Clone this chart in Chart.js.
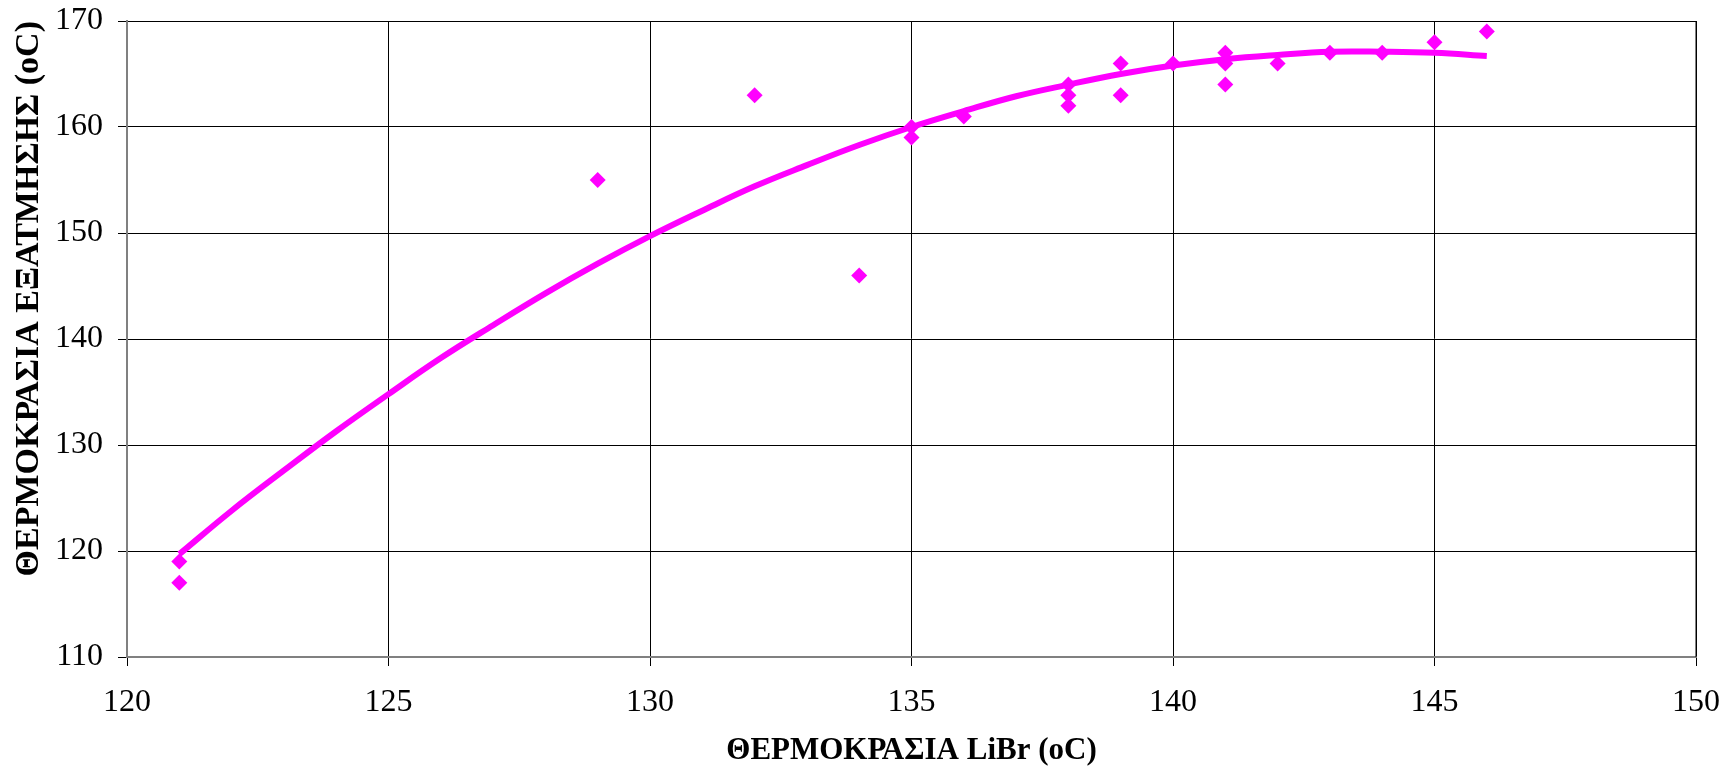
<!DOCTYPE html>
<html>
<head>
<meta charset="utf-8">
<script src="https://cdn.jsdelivr.net/npm/chart.js@4/dist/chart.umd.min.js"></script>
<style>
html,body{margin:0;padding:0;background:#fff;}
#wrap{width:1724px;height:766px;position:relative;}
</style>
</head>
<body>
<div id="wrap"><canvas id="c" width="1724" height="766"></canvas></div>
<script>
// Measured points (LiBr temperature, evaporation temperature)
const librTemp = [121,121,129,132,134,135,135,136,138,138,138,139,139,140,141,141,141,142,143,144,145,146];
const evapTemp = [119,117,155,163,146,160,159,161,164,163,162,166,163,166,167,166,164,166,167,167,168,169];

// Trend line (polynomial trendline) values
const trendX = [121,122,123,124,125,126,127,128,129,130,131,132,133,134,135,136,137,138,139,140,141,142,143,144,145,146];
const trendY = [119.7,123.8,127.6,131.3,134.8,138.2,141.3,144.3,147.1,149.7,152.1,154.4,156.4,158.3,160.0,161.5,162.9,164.0,165.0,165.8,166.4,166.8,167.1,167.1,167.0,166.7];

const xTitle = 'ΘΕΡΜΟΚΡΑΣΙΑ LiBr (oC)';
const yTitle = 'ΘΕΡΜΟΚΡΑΣΙΑ ΕΞΑΤΜΗΣΗΣ (oC)';
const xMin = 120, xMax = 150, xStep = 5;
const yMin = 110, yMax = 170, yStep = 10;

const scatterData = librTemp.map((x, i) => ({x: x, y: evapTemp[i]}));
const trendData = trendX.map((x, i) => ({x: x, y: trendY[i]}));

const FONT = "'Liberation Serif', 'Times New Roman', serif";

new Chart(document.getElementById('c'), {
  type: 'scatter',
  data: {
    datasets: [
      {
        label: 'trend',
        data: trendData,
        showLine: true,
        borderColor: '#FF00FF',
        borderWidth: 6,
        pointRadius: 0,
        tension: 0.4,
        fill: false
      },
      {
        label: 'data',
        data: scatterData,
        showLine: false,
        pointStyle: 'rectRot',
        pointRadius: 8,
        pointBackgroundColor: '#FF00FF',
        pointBorderColor: '#FF00FF',
        pointBorderWidth: 0
      }
    ]
  },
  options: {
    responsive: false,
    animation: false,
    events: [],
    layout: { padding: { left: 0, right: 28, top: 21, bottom: 0 } },
    plugins: { legend: { display: false }, tooltip: { enabled: false }, title: { display: false } },
    scales: {
      x: {
        type: 'linear',
        min: xMin, max: xMax,
        afterFit: (s) => { s.height = 109; s.paddingLeft = 0; s.paddingRight = 0; },
        ticks: { stepSize: xStep, color: '#000', padding: 17, font: { family: FONT, size: 32 }, maxRotation: 0 },
        grid: { color: '#000', lineWidth: 1, tickLength: 9, tickColor: '#000', drawTicks: true },
        border: { color: '#808080', width: 2 },
        title: { display: true, text: xTitle, color: '#000', font: { family: FONT, size: 31, weight: 'bold', lineHeight: 1.0 }, padding: { top: 0, bottom: 0 } }
      },
      y: {
        type: 'linear',
        min: yMin, max: yMax,
        afterFit: (s) => { s.width = 127; s.paddingTop = 0; s.paddingBottom = 0; },
        ticks: { stepSize: yStep, color: '#000', padding: 15, font: { family: FONT, size: 32 } },
        grid: { color: '#000', lineWidth: 1, tickLength: 9, tickColor: '#000', drawTicks: true },
        border: { color: '#808080', width: 2 },
        title: { display: true, text: yTitle, align: 'end', color: '#000', font: { family: FONT, size: 34, weight: 'bold' }, padding: { top: 9, bottom: 0 } }
      }
    }
  },
  plugins: [{
    id: 'frame',
    afterDraw(chart) {
      const a = chart.chartArea, ctx = chart.ctx;
      ctx.save();
      ctx.strokeStyle = '#000';
      ctx.lineWidth = 1;
      ctx.beginPath();
      ctx.moveTo(a.right, a.top); ctx.lineTo(a.right, a.bottom);
      ctx.stroke();
      ctx.restore();
    }
  }]
});
</script>
</body>
</html>
